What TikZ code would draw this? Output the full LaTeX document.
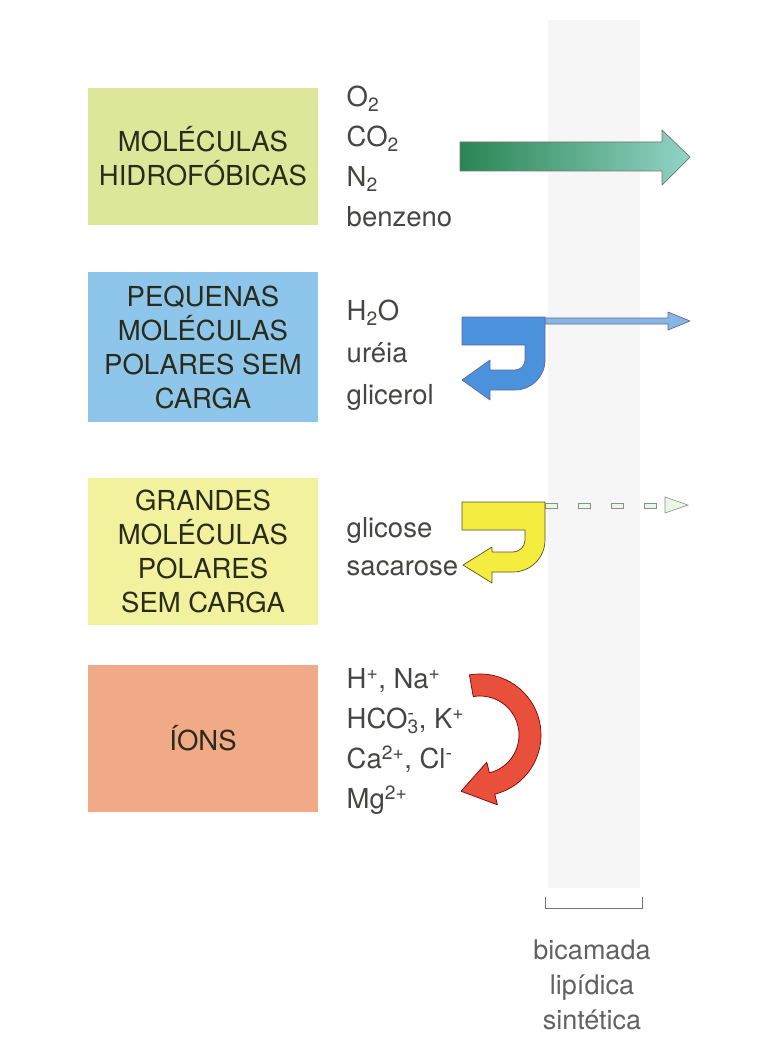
\documentclass[tikz,border=0pt]{standalone}
\usepackage{fontspec}
\setmainfont{TeX Gyre Heros}
\usetikzlibrary{calc}
\definecolor{hidroFill}{HTML}{DDE79A}
\definecolor{polarFill}{HTML}{8EC5EA}
\definecolor{grandFill}{HTML}{F2F19E}
\definecolor{ionFill}{HTML}{F1AA88}
\definecolor{boxText}{HTML}{2A2B1A}
\definecolor{listText}{HTML}{454543}
\definecolor{greenDark}{HTML}{2A8553}
\definecolor{greenLight}{HTML}{92D4C6}
\definecolor{blueFlow}{HTML}{4B92DC}
\definecolor{blueThin}{HTML}{86B6E4}
\definecolor{yellowFlow}{HTML}{F4EC3E}
\definecolor{redFlow}{HTML}{E9503C}

\begin{document}
\begin{tikzpicture}[x=1pt, y=-1pt, font=\fontsize{27.5}{34}\selectfont, molecule box/.style={minimum width=230pt, align=center, text=boxText, inner sep=0pt}, species/.style={anchor=west, align=left, text=listText}, flow arrow/.style={draw=#1, line width=0.7pt, line join=round}, dash box/.style={draw=black!45, fill=yellow!15!green!10, line width=0.6pt}, bracket/.style={draw=black!55, line width=0.8pt}, caption/.style={align=center, text=black!62, font=\fontsize{27}{35}\selectfont}]
\useasboundingbox (0,0) rectangle (765,1051);
\fill[white] (0,0) rectangle (765,1051);
\fill[black!3.5] (548,20) rectangle (640,888); % bilayer

\node[molecule box, fill=hidroFill, minimum height=137pt] (hidro) at (203,156.5) {MOLÉCULAS\\HIDROFÓBICAS};
\node[molecule box, fill=polarFill, minimum height=150pt] (polar) at (203,347) {PEQUENAS\\MOLÉCULAS\\POLARES SEM\\CARGA};
\node[molecule box, fill=grandFill, minimum height=147pt] (grand) at (203,551.5) {GRANDES\\MOLÉCULAS\\POLARES\\SEM CARGA};
\node[molecule box, fill=ionFill, minimum height=147pt] (ion) at (203,738.5) {ÍONS};

\node[species, font=\fontsize{27.5}{40}\selectfont] (hidroList) at ($(hidro.east)+(25,0)$) {O\textsubscript{2}\\CO\textsubscript{2}\\N\textsubscript{2}\\benzeno};
\node[species, font=\fontsize{27.5}{42}\selectfont] (polarList) at ($(polar.east)+(25,8)$) {H\textsubscript{2}O\\uréia\\glicerol};
\node[species, font=\fontsize{27.5}{38}\selectfont] (grandList) at ($(grand.east)+(25,-5)$) {glicose\\sacarose};
\node[species, font=\fontsize{27.5}{40}\selectfont] (ionList) at ($(ion.east)+(25,3)$) {H\textsuperscript{+}, Na\textsuperscript{+}\\HCO\rlap{\textsuperscript{-}}\textsubscript{3}, K\textsuperscript{+}\\Ca\textsuperscript{2+}, Cl\textsuperscript{-}\\Mg\textsuperscript{2+}};

% hydrophobic: straight through
\draw[flow arrow=black!55, left color=greenDark, right color=greenLight] (460,142) -- (662,142) -- (662,130) -- (690,157) -- (662,185) -- (662,171) -- (460,171) -- cycle;

% small polar
\draw[flow arrow=blue!40!black!60, fill=blueThin] (545,318) -- (668,318) -- (668,312) -- (690,321) -- (668,330) -- (668,324) -- (545,324) -- cycle;
\draw[flow arrow=blue!40!black!60, fill=blueFlow] (462,317) -- (545,317) -- (545,360) arc[start angle=0, end angle=90, radius=30] -- (490,390) -- (490,400) -- (462,380) -- (490,360) -- (490,370) -- (515,370) arc[start angle=90, end angle=0, radius=10] -- (525,345) -- (462,345) -- cycle;

% large polar
\foreach \dx in {545,578,611,644}
  \draw[dash box] (\dx,503) rectangle +(12,5);
\draw[dash box] (665,497) -- (688,505) -- (665,513) -- cycle;
\draw[flow arrow=olive!50!black, fill=yellowFlow] (462,502) -- (545,502) -- (545,540) arc[start angle=0, end angle=90, radius=32] -- (492,572) -- (492,583) -- (463,565) -- (492,547) -- (492,552) -- (513,552) arc[start angle=90, end angle=0, radius=12] -- (525,530) -- (462,530) -- cycle;

% ions
\coordinate (ionTurn) at (480,735);
\draw[flow arrow=red!50!black, fill=redFlow] ($(ionTurn)+(-100:61)$) arc[start angle=-100, end angle=76, radius=61] -- ($(ionTurn)+(76:72)$) -- ($(ionTurn)+(76:50)+(166:32)$) -- ($(ionTurn)+(76:28)$) -- ($(ionTurn)+(76:39)$) arc[start angle=76, end angle=-100, radius=39] -- cycle;

\draw[bracket] (545,897) -- (545,908) -- (642,908) -- (642,897);
\node[caption] (bilayerLabel) at (592,985) {bicamada\\lipídica\\sintética};
\end{tikzpicture}
\end{document}
